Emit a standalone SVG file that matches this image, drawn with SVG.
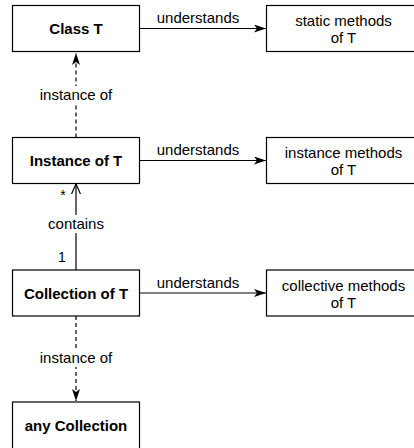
<svg xmlns="http://www.w3.org/2000/svg" width="414" height="448" viewBox="0 0 414 448">
<style>
.box{fill:#fff;stroke:#000;stroke-width:1.2}
.t{font-family:"Liberation Sans",Arial,sans-serif;font-size:15px;fill:#000;text-anchor:middle}
.b{font-weight:bold}
.ln{stroke:#000;stroke-width:1.2;fill:none}
.d{stroke-dasharray:4 3}
.lbl{fill:#fff}
.s{font-size:14px}
</style>
<defs>
<marker id="fill" viewBox="0 0 12 8" refX="12" refY="4" markerWidth="12" markerHeight="8" markerUnits="userSpaceOnUse" orient="auto">
<path d="M0,0 L12,4 L0,8 L3,4 Z" fill="#000"/>
</marker>
<marker id="open" viewBox="0 0 10 10" refX="10" refY="5" markerWidth="10" markerHeight="10" markerUnits="userSpaceOnUse" orient="auto">
<path d="M0,0.5 L10,5 L0,9.5" fill="none" stroke="#000" stroke-width="1.2"/>
</marker>
</defs>
<g id="connectors">
<line class="ln" x1="139.5" y1="28.5" x2="266" y2="28.5" marker-end="url(#fill)"/>
<text class="t" x="198" y="23">understands</text>
<line class="ln" x1="139.5" y1="160.5" x2="266" y2="160.5" marker-end="url(#fill)"/>
<text class="t" x="198" y="155">understands</text>
<line class="ln" x1="139.5" y1="293" x2="266" y2="293" marker-end="url(#fill)"/>
<text class="t" x="198" y="287.5">understands</text>
<line class="ln d" x1="76" y1="137.5" x2="76" y2="53" marker-end="url(#fill)"/>
<rect class="lbl" x="38" y="86" width="76" height="18"/>
<text class="t" x="76" y="100">instance of</text>
<line class="ln" x1="76" y1="270" x2="76" y2="184" marker-end="url(#open)"/>
<rect class="lbl" x="46" y="215" width="60" height="18"/>
<text class="t" x="76" y="229">contains</text>
<text class="t s" x="63" y="200">*</text>
<text class="t s" x="62" y="262">1</text>
<line class="ln d" x1="76" y1="316" x2="76" y2="401" marker-end="url(#fill)"/>
<rect class="lbl" x="38" y="349" width="76" height="18"/>
<text class="t" x="76" y="363">instance of</text>
</g>
<g id="classT">
<rect class="box" x="12.5" y="5.5" width="127" height="46"/>
<text class="t b" x="76" y="34">Class T</text>
</g>
<g id="staticMethods">
<rect class="box" x="266.5" y="5.5" width="154" height="46"/>
<text class="t" x="343.5" y="26">static methods</text>
<text class="t" x="343.5" y="43">of T</text>
</g>
<g id="instanceT">
<rect class="box" x="12.5" y="137.5" width="127" height="46"/>
<text class="t b" x="76" y="166">Instance of T</text>
</g>
<g id="instanceMethods">
<rect class="box" x="266.5" y="137.5" width="154" height="46"/>
<text class="t" x="343.5" y="158">instance methods</text>
<text class="t" x="343.5" y="175">of T</text>
</g>
<g id="collectionT">
<rect class="box" x="12.5" y="270" width="127" height="46"/>
<text class="t b" x="76" y="298.5">Collection of T</text>
</g>
<g id="collectiveMethods">
<rect class="box" x="266.5" y="270" width="154" height="46"/>
<text class="t" x="343.5" y="290.5">collective methods</text>
<text class="t" x="343.5" y="307.5">of T</text>
</g>
<g id="anyCollection">
<rect class="box" x="12.5" y="402" width="127" height="50"/>
<text class="t b" x="76" y="430.5">any Collection</text>
</g>
</svg>
